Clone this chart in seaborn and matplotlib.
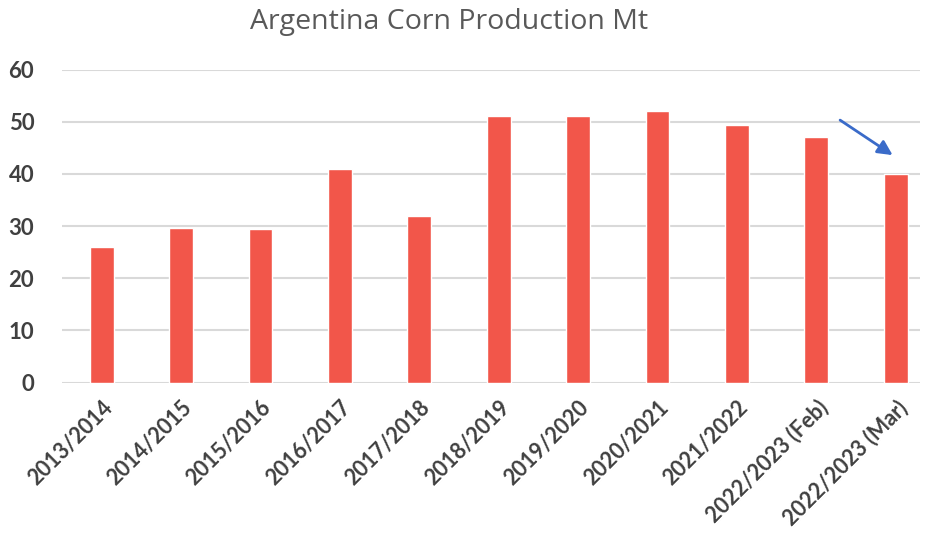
import pandas as pd
import matplotlib.pyplot as plt
import seaborn as sns

# Argentina corn production, million tonnes
seasons = ["2013/2014", "2014/2015", "2015/2016", "2016/2017", "2017/2018",
           "2018/2019", "2019/2020", "2020/2021", "2021/2022",
           "2022/2023 (Feb)", "2022/2023 (Mar)"]
production = [26, 29.6, 29.4, 41, 32, 51, 51, 52, 49.4, 47, 40]

df = pd.DataFrame({"season": seasons, "mt": production})

sns.set_style("white")
plt.rcParams["font.family"] = ["Lato", "DejaVu Sans"]

fig = plt.figure(figsize=(9.25, 5.35), dpi=100)
ax = fig.add_axes([0.067, 0.285, 0.928, 0.585])

sns.barplot(df, x="season", y="mt", color="#F2564A", width=0.3,
            saturation=1, ax=ax, zorder=3)

ax.set_ylim(0, 60)
ax.set_xlim(-0.5, 10.31)
ax.set_yticks(range(0, 61, 10))
ax.yaxis.grid(True, color="#D9D9D9", linewidth=1.5, zorder=0)
ax.set_axisbelow(True)
sns.despine(ax=ax, left=True, bottom=True)
ax.tick_params(axis="both", length=0, labelcolor="#404040")
ax.tick_params(axis="x", labelsize=15.5, pad=10)
ax.tick_params(axis="y", labelsize=16, pad=20)
for lbl in ax.get_xticklabels():
    lbl.set_rotation(45)
    lbl.set_ha("right")
    lbl.set_rotation_mode("anchor")
    lbl.set_fontweight("bold")
for lbl in ax.get_yticklabels():
    lbl.set_fontweight("bold")
ax.set_xlabel("")
ax.set_ylabel("")

# arrow pointing at the March revision
ax.annotate("", xy=(9.99, 43.3), xytext=(9.27, 50.6),
            arrowprops=dict(arrowstyle="-|>", color="#3A6BC9", lw=2,
                            mutation_scale=22))

fig.text(0.486, 0.958, "Argentina Corn Production Mt", ha="center", va="center",
         fontsize=20.5, color="#595959", family=["Open Sans", "DejaVu Sans"])

plt.savefig("out.png", dpi=100)
